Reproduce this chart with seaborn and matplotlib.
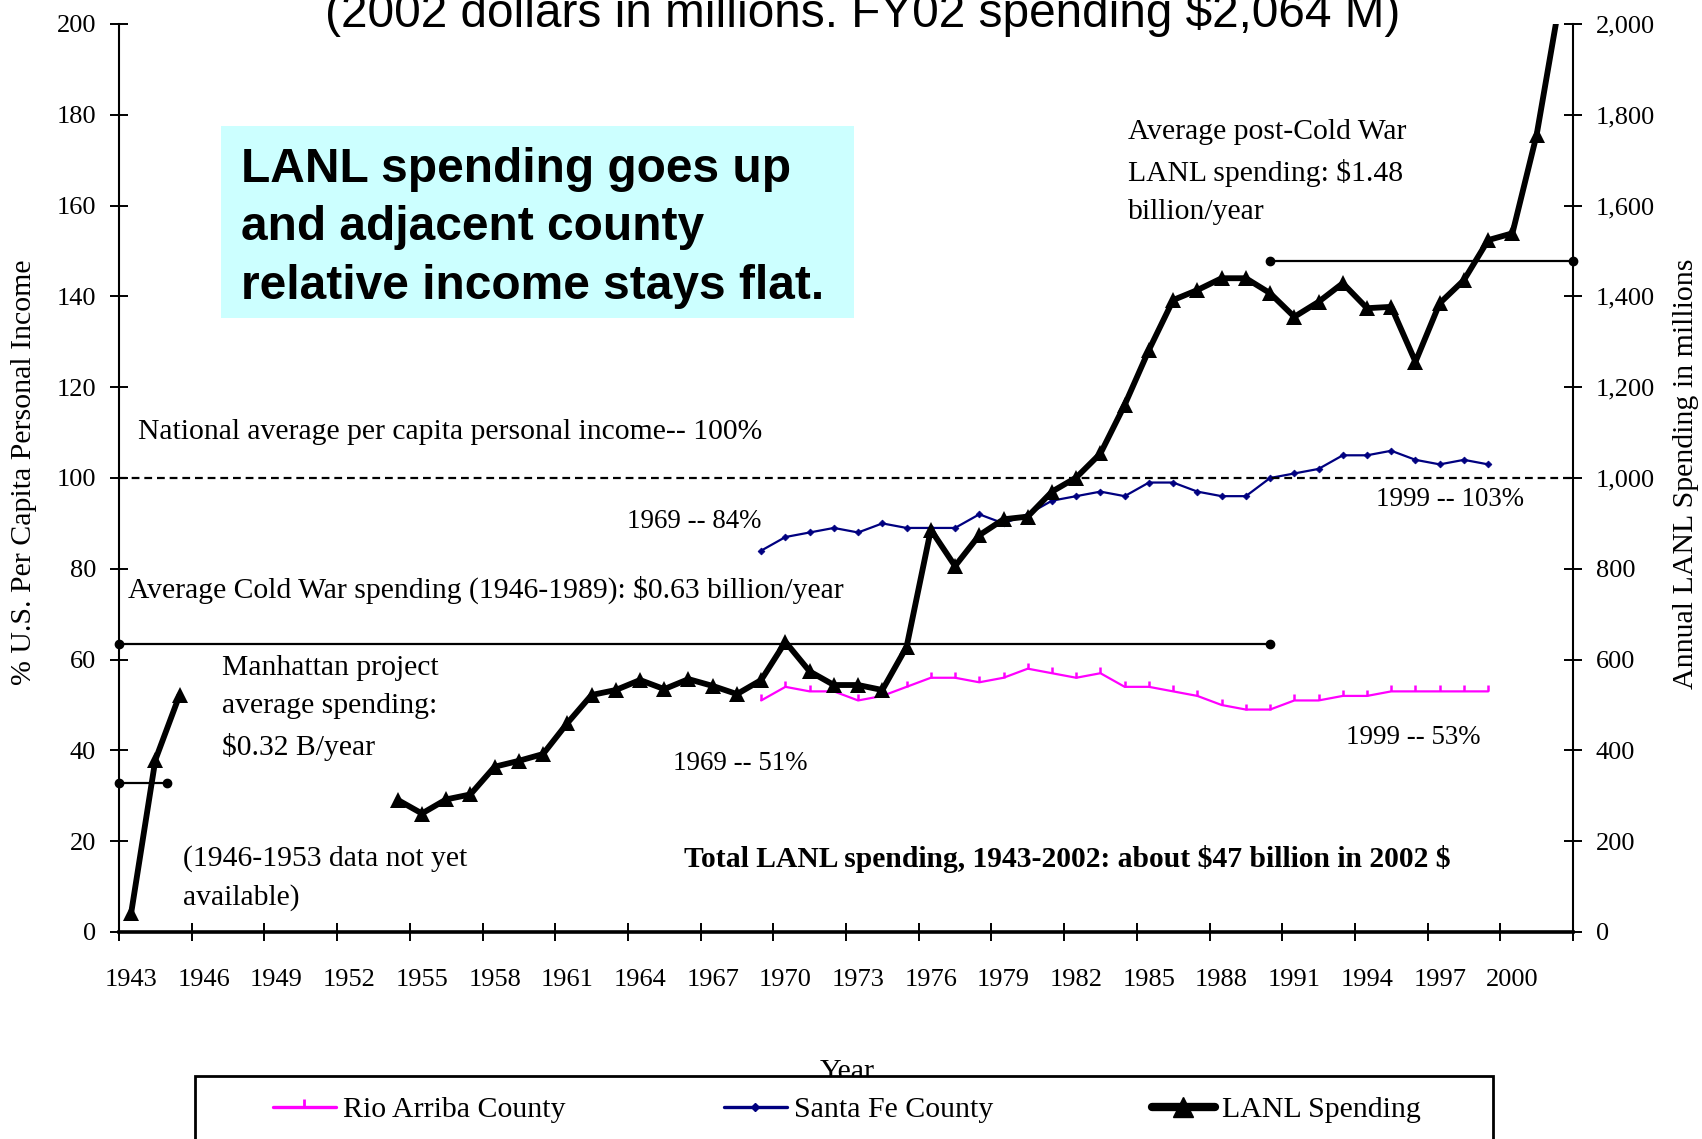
import matplotlib
matplotlib.use('Agg')
import matplotlib.pyplot as plt
from matplotlib.lines import Line2D
from matplotlib.patches import Rectangle
import numpy as np
import pandas as pd
import seaborn as sns

# county income as % of US per capita personal income
county_years = list(range(1969, 2000))
rio_arriba = [51, 54, 53, 53, 51, 52, 54, 56, 56, 55, 56, 58, 57, 56, 57, 54,
              54, 53, 52, 50, 49, 49, 51, 51, 52, 52, 53, 53, 53, 53, 53]
santa_fe = [84, 87, 88, 89, 88, 90, 89, 89, 89, 92, 90, 92, 95, 96, 97, 96,
            99, 99, 97, 96, 96, 100, 101, 102, 105, 105, 106, 104, 103, 104, 103]

# LANL spending, 2002 $ millions (1946-1953 missing)
lanl_years_early = [1943, 1944, 1945]
lanl_early = [41, 379, 522]
lanl_years = list(range(1954, 2003))
lanl = [291, 261, 292, 303, 364, 377, 392, 460, 522, 533,
        555, 535, 557, 542, 524, 555, 639, 574, 544, 544,
        533, 628, 886, 806, 874, 909, 915, 970, 1001, 1054,
        1161, 1282, 1392, 1414, 1440, 1440, 1407, 1355, 1388, 1429,
        1374, 1377, 1256, 1385, 1436, 1524, 1539, 1756, 2064]

# period averages (start, end, $M)
manhattan_avg = (1942.5, 1944.5, 328)
cold_war_avg = (1942.5, 1990, 634)
post_cold_war_avg = (1990, 2002.5, 1479)
national_avg = 100

tick_years = list(range(1943, 2001, 3))

W, H = 1702, 1139


def px(x, y):
    return x / W, 1 - y / H


sns.set_theme(style='white')
plt.rcParams['font.family'] = ['Liberation Serif', 'DejaVu Serif']
plt.rcParams['text.color'] = 'black'
plt.rcParams['xtick.color'] = 'black'
plt.rcParams['ytick.color'] = 'black'
plt.rcParams['axes.labelcolor'] = 'black'

fig = plt.figure(figsize=(W / 100, H / 100), dpi=100)
ax = fig.add_axes([119 / W, 1 - 932 / H, (1573 - 119) / W, (932 - 24) / H])
ax2 = ax.twinx()

# county lines
sns.lineplot(x=county_years, y=rio_arriba, ax=ax, color='#FF00FF', lw=1.6,
             marker=2, markersize=4, markeredgewidth=1.8, markeredgecolor='#FF00FF')
sns.lineplot(x=county_years, y=santa_fe, ax=ax, color='#000080', lw=1.6,
             marker='D', markersize=3.5, markeredgewidth=0.5, markeredgecolor='#000080')
ax.axhline(national_avg, color='black', lw=1.6, ls=(0, (3.5, 2.2)))

# LANL spending, drawn as two segments to leave the data gap
lanl_df = pd.DataFrame({
    'year': lanl_years_early + lanl_years,
    'spend': lanl_early + lanl,
    'segment': ['early'] * len(lanl_early) + ['late'] * len(lanl),
})
sns.lineplot(data=lanl_df, x='year', y='spend', units='segment', estimator=None,
             ax=ax2, color='black', lw=4.2, marker='^', markersize=11,
             markeredgewidth=0, markeredgecolor='black', legend=False)

for x0, x1, v in [manhattan_avg, cold_war_avg, post_cold_war_avg]:
    ax2.plot([x0, x1], [v, v], color='black', lw=1.6, marker='o',
             markersize=6, clip_on=False)

# axes styling
ax.set_xlim(1942.5, 2002.5)
ax.set_ylim(0, 200)
ax2.set_ylim(0, 2000)
ax.set_xlabel('')
ax.set_ylabel('')
ax2.set_ylabel('')
ax.set_xticks(np.arange(1942.5, 2003, 3))
ax.set_xticklabels([])
ax.set_xticks(tick_years, minor=True)
ax.set_xticklabels([str(y) for y in tick_years], minor=True)
ax.set_yticks(range(0, 201, 20))
ax2.set_yticks(range(0, 2001, 200))
ax2.set_yticklabels([f'{v:,}' for v in range(0, 2001, 200)])

for a in (ax, ax2):
    a.spines['top'].set_visible(False)
ax.spines['right'].set_visible(False)
ax2.spines['left'].set_visible(False)
ax2.spines['bottom'].set_visible(False)
ax.spines['left'].set_linewidth(1.5)
ax.spines['left'].set_color('black')
ax.spines['bottom'].set_linewidth(2.6)
ax.spines['bottom'].set_color('black')
ax2.spines['right'].set_linewidth(1.5)
ax2.spines['right'].set_color('black')

ax.tick_params(axis='x', which='major', direction='inout', length=13, width=1.4,
               color='black', bottom=True)
ax.tick_params(axis='x', which='minor', length=0, pad=26.5, labelsize=19,
               bottom=True)
ax.tick_params(axis='y', direction='inout', length=13, width=1.4, color='black',
               pad=10, labelsize=19, left=True)
ax2.tick_params(axis='y', direction='inout', length=13, width=1.4, color='black',
                pad=10, labelsize=19, right=True)

# axis titles
fig.text(*px(24, 472), '% U.S. Per Capita Personal Income', rotation=90,
         ha='center', va='center', fontsize=21.5)
fig.text(*px(1686, 474), 'Annual LANL Spending in millions', rotation=90,
         ha='center', va='center', fontsize=21.5)

# title (cut by top edge as in the original slide)
fig.text(*px(863, 27), '(2002 dollars in millions. FY02 spending \\$2,064 M)',
         ha='center', va='baseline', fontsize=34.4, family='Liberation Sans')

# callout box
fig.patches.append(Rectangle(px(221, 318), (854 - 221) / W, (318 - 126) / H,
                             transform=fig.transFigure, facecolor='#CCFFFF',
                             edgecolor='none', zorder=1))
fig.text(*px(241, 228), 'LANL spending goes up\nand adjacent county\nrelative income stays flat.',
         ha='left', va='center', fontsize=34.5, fontweight='bold',
         family='Liberation Sans', linespacing=1.38, zorder=2)

# annotations
ann = 21.3
small = 19.4
ls3 = 1.6
fig.text(*px(138, 432), 'National average per capita personal income-- 100%',
         va='center', fontsize=ann)
fig.text(*px(627, 522), '1969 -- 84%', va='center', fontsize=small)
fig.text(*px(1376, 499), '1999 -- 103%', va='center', fontsize=small)
fig.text(*px(128, 590), 'Average Cold War spending (1946-1989): \\$0.63 billion/year',
         va='center', fontsize=ann)
fig.text(*px(222, 708), 'Manhattan project\naverage spending:\n\\$0.32 B/year',
         va='center', fontsize=ann, linespacing=ls3)
fig.text(*px(673, 764), '1969 -- 51%', va='center', fontsize=small)
fig.text(*px(1346, 738), '1999 -- 53%', va='center', fontsize=small)
fig.text(*px(183, 878), '(1946-1953 data not yet\navailable)',
         va='center', fontsize=ann, linespacing=ls3)
fig.text(*px(684, 859), 'Total LANL spending, 1943-2002: about \\$47 billion in 2002 \\$',
         va='center', fontsize=ann, fontweight='bold')
fig.text(*px(1128, 172), 'Average post-Cold War\nLANL spending: \\$1.48\nbillion/year',
         va='center', fontsize=ann, linespacing=ls3)

# x axis title, partly hidden behind the legend frame
fig.text(*px(847, 1079), 'Year', ha='center', va='baseline', fontsize=21.5, zorder=2)
fig.patches.append(Rectangle(px(195, 1160), (1493 - 195) / W, (1160 - 1076) / H,
                             transform=fig.transFigure, facecolor='white',
                             edgecolor='black', lw=2, zorder=3))

handles = [
    Line2D([], [], color='#FF00FF', lw=2.4, marker=2, markersize=6,
           markeredgewidth=2, markeredgecolor='#FF00FF'),
    Line2D([], [], color='#000080', lw=2.4, marker='D', markersize=4,
           markeredgecolor='#000080'),
    Line2D([], [], color='black', lw=6, marker='^', markersize=14),
]
leg = fig.legend(handles, ['Rio Arriba County', 'Santa Fe County', 'LANL Spending'],
                 loc='center', bbox_to_anchor=px(847, 1110), ncol=3, frameon=False,
                 fontsize=21.5, handlelength=2.1, handletextpad=0.25,
                 columnspacing=5.3)
leg.set_zorder(4)

fig.savefig('out.png', dpi=100)
